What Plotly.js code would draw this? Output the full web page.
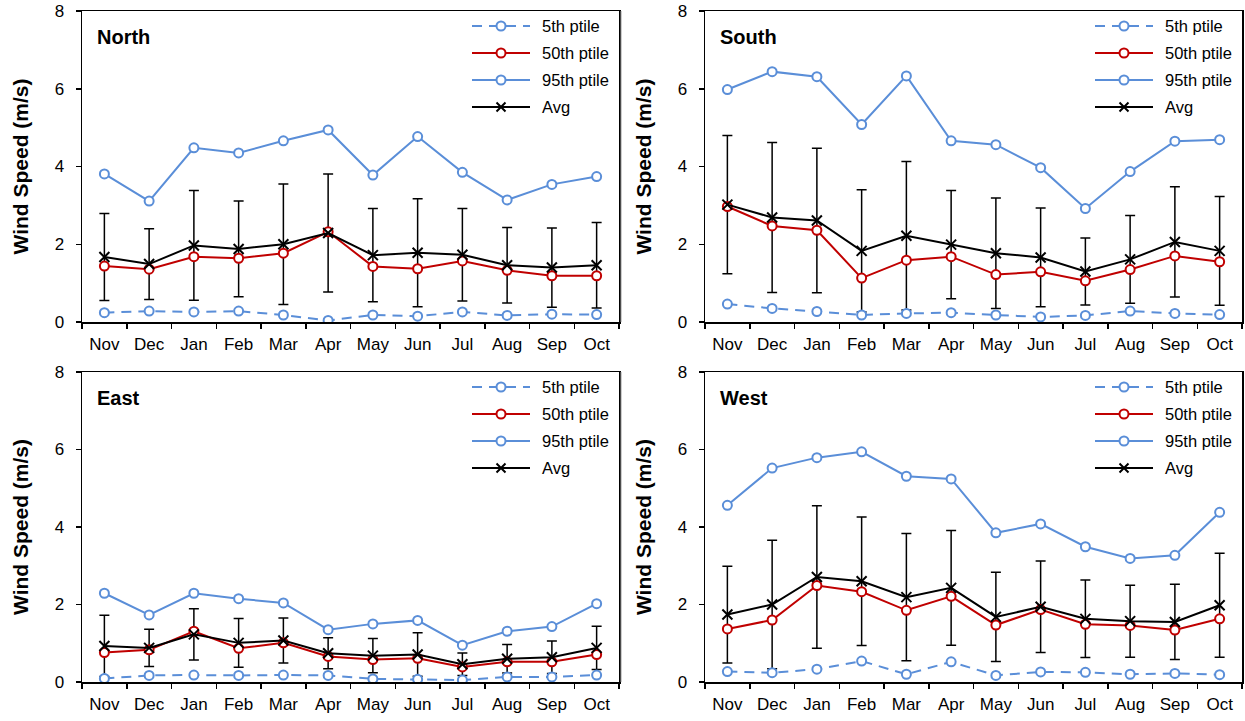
<!DOCTYPE html>
<html>
<head>
<meta charset="utf-8">
<script src="https://cdn.plot.ly/plotly-3.0.1.min.js"></script>
<style>html,body{margin:0;padding:0;background:#fff;}#chart{width:1245px;height:721px;}</style>
</head>
<body>
<div id="chart"></div>
<script>
// ---- data ----
const months = ['Nov','Dec','Jan','Feb','Mar','Apr','May','Jun','Jul','Aug','Sep','Oct'];
const seriesNames = ['5th ptile','50th ptile','95th ptile','Avg'];
const yAxisTitle = 'Wind Speed (m/s)';
const regionNames = ['North','South','East','West'];

const northP5  = [0.24,0.28,0.26,0.28,0.18,0.04,0.18,0.15,0.26,0.17,0.20,0.19];
const northP50 = [1.44,1.36,1.68,1.64,1.77,2.32,1.43,1.37,1.57,1.33,1.19,1.19];
const northP95 = [3.81,3.11,4.48,4.35,4.66,4.94,3.78,4.77,3.85,3.14,3.54,3.74];
const northAvg = [1.67,1.49,1.97,1.88,2.00,2.29,1.72,1.78,1.73,1.46,1.40,1.46];
const northSd  = [1.12,0.91,1.41,1.23,1.55,1.52,1.20,1.39,1.19,0.97,1.02,1.10];

const southP5  = [0.46,0.35,0.27,0.18,0.22,0.24,0.18,0.13,0.17,0.28,0.22,0.19];
const southP50 = [2.97,2.47,2.36,1.13,1.59,1.68,1.22,1.29,1.06,1.35,1.70,1.55];
const southP95 = [5.98,6.44,6.31,5.08,6.33,4.66,4.56,3.97,2.92,3.87,4.65,4.69];
const southAvg = [3.02,2.69,2.61,1.83,2.22,1.99,1.77,1.66,1.30,1.61,2.06,1.83];
const southSd  = [1.78,1.93,1.86,1.57,1.91,1.39,1.42,1.27,0.86,1.13,1.42,1.40];

const eastP5  = [0.09,0.17,0.18,0.17,0.18,0.17,0.08,0.07,0.05,0.13,0.13,0.18];
const eastP50 = [0.76,0.83,1.31,0.87,1.01,0.66,0.58,0.61,0.39,0.52,0.52,0.71];
const eastP95 = [2.29,1.73,2.29,2.15,2.04,1.35,1.50,1.59,0.95,1.31,1.43,2.02];
const eastAvg = [0.93,0.88,1.23,1.01,1.07,0.74,0.68,0.71,0.46,0.60,0.64,0.88];
const eastSd  = [0.79,0.48,0.66,0.63,0.58,0.40,0.44,0.56,0.29,0.37,0.42,0.56];

const westP5  = [0.27,0.24,0.33,0.54,0.20,0.52,0.17,0.26,0.25,0.20,0.22,0.19];
const westP50 = [1.37,1.60,2.49,2.33,1.85,2.21,1.47,1.87,1.49,1.46,1.34,1.63];
const westP95 = [4.56,5.52,5.79,5.94,5.31,5.24,3.85,4.08,3.49,3.19,3.27,4.38];
const westAvg = [1.74,2.00,2.71,2.60,2.19,2.43,1.68,1.94,1.63,1.57,1.55,1.98];
const westSd  = [1.25,1.66,1.84,1.66,1.64,1.48,1.15,1.18,1.00,0.93,0.97,1.34];

// ---- layout helpers ----
const W = 1245, H = 721;
const BLUE = '#5A8ED8', RED = '#C00000', BLACK = '#000000';
const FONT = 'Liberation Sans, Arial, Helvetica, sans-serif';
const px = x => x / W;
const py = y => 1 - y / H;

const panels = [
  {name: regionNames[0], p5: northP5, p50: northP50, p95: northP95, avg: northAvg, sd: northSd, L: 82,  R: 619,  T: 11,  B: 322},
  {name: regionNames[1], p5: southP5, p50: southP50, p95: southP95, avg: southAvg, sd: southSd, L: 705, R: 1242, T: 11,  B: 322},
  {name: regionNames[2], p5: eastP5,  p50: eastP50,  p95: eastP95,  avg: eastAvg,  sd: eastSd,  L: 82,  R: 619,  T: 372, B: 682},
  {name: regionNames[3], p5: westP5,  p50: westP50,  p95: westP95,  avg: westAvg,  sd: westSd,  L: 705, R: 1242, T: 372, B: 682},
];

const traces = [];
const layout = {
  width: W, height: H,
  margin: {l: 0, r: 0, t: 0, b: 0},
  paper_bgcolor: '#ffffff', plot_bgcolor: '#ffffff',
  showlegend: false,
  font: {family: FONT, size: 16, color: '#000'},
  shapes: [], annotations: []
};

const circleMarker = c => ({symbol: 'circle', size: 9, color: '#ffffff', line: {color: c, width: 2}});

panels.forEach((p, i) => {
  const n = i === 0 ? '' : String(i + 1);
  const xa = 'x' + n, ya = 'y' + n;
  // error bars (drawn first, beneath everything)
  traces.push({type: 'scatter', mode: 'markers', x: months, y: p.avg, xaxis: xa, yaxis: ya,
    marker: {size: 1, color: 'rgba(0,0,0,0)'}, hoverinfo: 'skip',
    error_y: {type: 'data', array: p.sd, symmetric: true, color: BLACK, thickness: 1.5, width: 5}});
  traces.push({type: 'scatter', mode: 'lines+markers', name: seriesNames[0], x: months, y: p.p5, xaxis: xa, yaxis: ya,
    line: {color: BLUE, width: 2, dash: '10px,7px'}, marker: circleMarker(BLUE)});
  traces.push({type: 'scatter', mode: 'lines+markers', name: seriesNames[2], x: months, y: p.p95, xaxis: xa, yaxis: ya,
    line: {color: BLUE, width: 2}, marker: circleMarker(BLUE)});
  traces.push({type: 'scatter', mode: 'lines+markers', name: seriesNames[1], x: months, y: p.p50, xaxis: xa, yaxis: ya,
    line: {color: RED, width: 2}, marker: circleMarker(RED)});
  traces.push({type: 'scatter', mode: 'lines+markers', name: seriesNames[3], x: months, y: p.avg, xaxis: xa, yaxis: ya,
    line: {color: BLACK, width: 2}, marker: {symbol: 'x-thin', size: 10, color: BLACK, line: {color: BLACK, width: 2}}});

  layout['xaxis' + n] = {
    domain: [px(p.L), px(p.R)], anchor: ya,
    type: 'category', categoryorder: 'array', categoryarray: months,
    range: [-0.5, 11.5], fixedrange: true,
    showline: true, mirror: true, linecolor: BLACK, linewidth: 1.5,
    ticks: 'outside', tickson: 'boundaries', ticklen: 5, tickwidth: 1.5, tickcolor: BLACK,
    showgrid: false, zeroline: false,
    tickfont: {family: FONT, size: 17, color: '#000'}, ticklabelstandoff: 6
  };
  layout['yaxis' + n] = {
    domain: [py(p.B), py(p.T)], anchor: xa,
    range: [0, 8], dtick: 2, tick0: 0, fixedrange: true,
    showline: true, mirror: true, linecolor: BLACK, linewidth: 1.5,
    ticks: 'outside', ticklen: 5, tickwidth: 1.5, tickcolor: BLACK,
    showgrid: false, zeroline: false,
    tickfont: {family: FONT, size: 17, color: '#000'}, ticklabelstandoff: 8,
    title: {text: '<b>' + yAxisTitle + '</b>', font: {family: FONT, size: 21, color: '#000'}, standoff: 20}
  };

  // panel title
  layout.annotations.push({xref: 'paper', yref: 'paper', x: px(p.L + 13), y: py(p.T + 26),
    xanchor: 'left', yanchor: 'middle', showarrow: false,
    text: '<b>' + p.name + '</b>', font: {family: FONT, size: 20, color: '#000'}});

  // legend (drawn manually to match key length)
  const rows = [
    {label: seriesNames[0], color: BLUE, dash: '10px,7px', mk: 'circle'},
    {label: seriesNames[1], color: RED, dash: 'solid', mk: 'circle'},
    {label: seriesNames[2], color: BLUE, dash: 'solid', mk: 'circle'},
    {label: seriesNames[3], color: BLACK, dash: 'solid', mk: 'x'}
  ];
  rows.forEach((r, k) => {
    const yy = p.T + 15 + 27 * k;
    layout.shapes.push({type: 'line', xref: 'paper', yref: 'paper', layer: 'above',
      x0: px(p.L + 390), x1: px(p.L + 448), y0: py(yy), y1: py(yy),
      line: {color: r.color, width: 2, dash: r.dash}});
    if (r.mk === 'circle') {
      layout.shapes.push({type: 'circle', xref: 'paper', yref: 'paper', layer: 'above',
        xsizemode: 'pixel', ysizemode: 'pixel', xanchor: px(p.L + 419), yanchor: py(yy),
        x0: -4.5, x1: 4.5, y0: -4.5, y1: 4.5, fillcolor: '#ffffff', line: {color: r.color, width: 2}});
    } else {
      layout.shapes.push({type: 'path', xref: 'paper', yref: 'paper', layer: 'above',
        xsizemode: 'pixel', ysizemode: 'pixel', xanchor: px(p.L + 419), yanchor: py(yy),
        path: 'M-4.5,-4.5L4.5,4.5M-4.5,4.5L4.5,-4.5', line: {color: BLACK, width: 2}});
    }
    layout.annotations.push({xref: 'paper', yref: 'paper', x: px(p.L + 458), y: py(yy),
      xanchor: 'left', yanchor: 'middle', showarrow: false,
      text: r.label, font: {family: FONT, size: 16.5, color: '#000'}});
  });
});

// thin separator lines at the left of the right-hand panels
[[11, 322], [372, 682]].forEach(([t, b]) => {
  layout.shapes.push({type: 'line', xref: 'paper', yref: 'paper', x0: px(621), x1: px(621), y0: py(t), y1: py(b),
    line: {color: '#9a9a9a', width: 1}});
});

Plotly.newPlot('chart', traces, layout, {staticPlot: true, displayModeBar: false});
</script>
</body>
</html>
